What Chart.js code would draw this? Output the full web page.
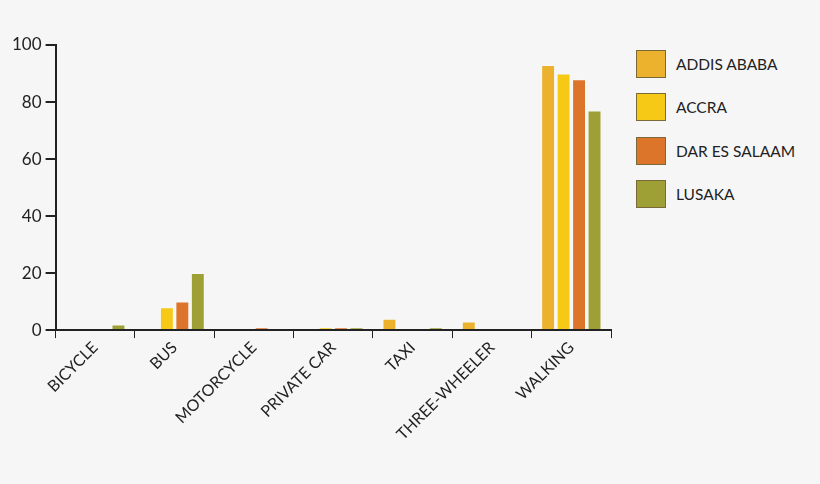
<!DOCTYPE html>
<html>
<head>
<meta charset="utf-8">
<script src="https://cdn.jsdelivr.net/npm/chart.js@4/dist/chart.umd.min.js"></script>
<style>
  body { margin: 0; background: #f6f6f6; font-family: Lato, "Open Sans", sans-serif; }
  #wrap { position: absolute; left: 0; top: 0; width: 620px; height: 484px; }
  #legend { position: absolute; left: 636px; top: 42px; }
  .item { display: flex; align-items: center; height: 43.5px; font-size: 15.5px; color: #222; }
  .sw { width: 30px; height: 28px; box-sizing: border-box; border: 1px solid #7a6a3a; margin-right: 10px; }
</style>
</head>
<body>
<div id="wrap"><canvas id="chart"></canvas></div>
<div id="legend"></div>
<script>
const categories = ['BICYCLE', 'BUS', 'MOTORCYCLE', 'PRIVATE CAR', 'TAXI', 'THREE-WHEELER', 'WALKING'];
const cities = ['ADDIS ABABA', 'ACCRA', 'DAR ES SALAAM', 'LUSAKA'];
const addisAbaba = [0, 0, 0, 0, 4, 3, 93];
const accra = [0, 8, 0, 1, 0, 0, 90];
const darEsSalaam = [0, 10, 1, 1, 0, 0, 88];
const lusaka = [2, 20, 0, 1, 1, 0, 77];
const colors = ['#ecb22e', '#f5c915', '#dc742a', '#9ea035'];

const series = [addisAbaba, accra, darEsSalaam, lusaka];

// Legend
const legend = document.getElementById('legend');
cities.forEach((c, i) => {
  legend.innerHTML += `<div class="item"><div class="sw" style="background:${colors[i]}"></div>${c}</div>`;
});

new Chart(document.getElementById('chart'), {
  type: 'bar',
  data: {
    labels: categories,
    datasets: series.map((d, i) => ({
      label: cities[i],
      data: d,
      backgroundColor: colors[i],
      borderColor: 'rgba(255,255,255,0.35)',
      borderWidth: 1
    }))
  },
  options: {
    responsive: true,
    maintainAspectRatio: false,
    animation: false,
    layout: { padding: { top: 45, right: 9, left: 8, bottom: 40 } },
    plugins: { legend: { display: false }, tooltip: { enabled: false } },
    datasets: { bar: { categoryPercentage: 0.78, barPercentage: 0.9 } },
    scales: {
      x: {
        grid: { offset: true, drawOnChartArea: false, tickLength: 8, color: '#222' },
        border: { color: '#222', width: 2 },
        ticks: { color: '#222', font: { size: 16, family: 'Lato' }, maxRotation: 45, minRotation: 45, padding: 0 }
      },
      y: {
        min: 0, max: 100,
        grid: { drawOnChartArea: false, tickLength: 10, color: '#222', lineWidth: 2 },
        border: { color: '#222', width: 2 },
        ticks: { stepSize: 20, color: '#222', font: { size: 17, family: 'Lato' }, padding: 4 }
      }
    }
  }
});
</script>
</body>
</html>
